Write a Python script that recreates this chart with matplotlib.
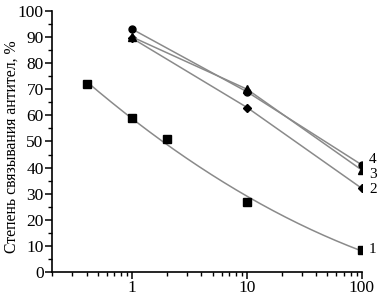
import numpy as np
import matplotlib
matplotlib.use("Agg")
import matplotlib.pyplot as plt
from matplotlib.ticker import FixedLocator, MultipleLocator, LogLocator, NullFormatter

plt.rcParams['font.family'] = ['Liberation Serif', 'DejaVu Serif']

# data
x1 = [0.4, 1, 2, 10, 100]
y1 = [72, 59, 51, 27, 8.5]
x234 = [1, 10, 100]
y2 = [89.5, 63, 32]
y3 = [90, 70, 39]
y4 = [93, 69, 41]
curve_labels = ['1', '2', '3', '4']

fig = plt.figure(figsize=(3.81, 2.97), dpi=100)
ax = fig.add_axes([0.1365, 0.0842, 0.8135, 0.879])

line_color = '#8a8a8a'

# curve 1 is a smooth fit through the squares (quadratic in log x)
coef = np.polyfit(np.log10(x1), y1, 2)
xs = np.logspace(np.log10(min(x1)), np.log10(max(x1)), 200)
ax.plot(xs, np.polyval(coef, np.log10(xs)), color=line_color, lw=1.1)
ax.plot(x1, y1, ls='none', marker='s', ms=6, color='black')

ax.plot(x234, y2, color=line_color, lw=1.1, marker='D', ms=4.5, mfc='black', mec='black')
ax.plot(x234, y3, color=line_color, lw=1.1, marker='^', ms=5.5, mfc='black', mec='black')
ax.plot(x234, y4, color=line_color, lw=1.1, marker='o', ms=5, mfc='black', mec='black')

# labels next to the last points; 3 and 4 pushed apart a bit
offsets = [0, -1, -3, 4]
for lab, yv, dy in zip(curve_labels, [y1[-1], y2[-1], y3[-1], y4[-1]], offsets):
    ax.annotate(lab, (100, yv), xytext=(5, dy), textcoords='offset points',
                va='center', ha='left', fontsize=11, annotation_clip=False)

ax.set_xscale('log')
ax.set_xlim(0.2, 100)
ax.set_ylim(0, 100)
ax.xaxis.set_major_locator(FixedLocator([1, 10, 100]))
ax.set_xticklabels(['1', '10', '100'])
ax.xaxis.set_minor_locator(LogLocator(base=10, subs=np.arange(2, 10)))
ax.xaxis.set_minor_formatter(NullFormatter())
ax.yaxis.set_major_locator(MultipleLocator(10))
ax.yaxis.set_minor_locator(MultipleLocator(5))

ax.spines['top'].set_visible(False)
ax.spines['right'].set_visible(False)
for s in ['left', 'bottom']:
    ax.spines[s].set_linewidth(1.2)
ax.tick_params(which='major', length=5, width=1.1, labelsize=12.5, pad=1)
ax.tick_params(which='minor', length=3, width=1.0)

ax.set_ylabel('Степень связывания антител, %', fontsize=11.3)
ax.yaxis.set_label_coords(-0.103, 0.48)

fig.savefig('out.png', dpi=100)
